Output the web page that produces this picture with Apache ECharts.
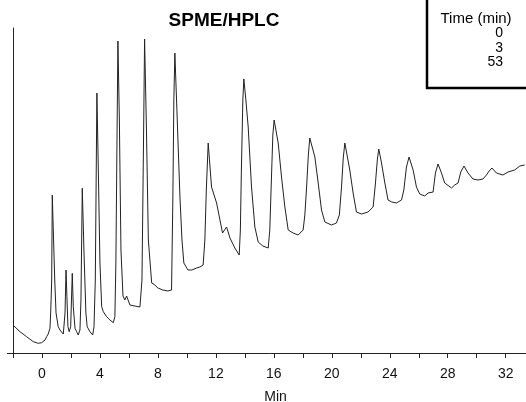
<!DOCTYPE html>
<html>
<head>
<meta charset="utf-8">
<script src="https://cdn.jsdelivr.net/npm/echarts@6/dist/echarts.min.js"></script>
<style>
html,body{margin:0;padding:0;background:#fff;}
#chart{width:526px;height:402px;}
</style>
</head>
<body>
<div id="chart"></div>
<script>
// Retention time (min)
var time = [
-2.0,-1.52,-1.06,-0.60,-0.26,-0.14,-0.02,0.09,0.21,0.32,0.43,0.55,0.60,0.67,0.71,0.78,0.88,0.97,1.12,1.24,
1.36,1.47,1.59,1.66,1.72,1.79,1.88,1.98,2.09,2.16,2.28,2.39,2.50,2.62,2.69,2.78,2.90,3.03,3.12,3.31,
3.50,3.59,3.68,3.79,3.90,4.00,4.12,4.23,4.34,4.46,4.69,4.92,5.03,5.10,5.17,5.24,5.34,5.45,5.59,5.72,
5.84,6.07,6.41,6.76,6.90,7.00,7.08,7.21,7.34,7.57,7.79,8.00,8.34,8.69,8.94,9.03,9.10,9.17,9.31,9.52,
9.66,9.79,10.07,10.34,10.67,10.90,11.12,11.24,11.34,11.47,11.70,12.05,12.28,12.46,12.55,12.74,12.97,13.31,13.61,13.69,
13.76,13.86,13.93,14.07,14.23,14.46,14.69,14.92,15.24,15.61,15.72,15.83,15.93,16.02,16.30,16.53,16.76,16.99,17.33,17.68,
18.02,18.14,18.26,18.38,18.48,18.83,19.06,19.29,19.52,19.98,20.32,20.52,20.67,20.79,20.90,21.24,21.47,21.70,22.05,22.50,
22.85,23.00,23.14,23.24,23.43,23.66,23.88,24.14,24.46,24.81,24.97,25.15,25.33,25.61,25.84,26.07,26.41,26.64,26.99,27.15,
27.33,27.57,27.79,28.26,28.48,28.71,28.90,29.12,29.40,29.74,30.09,30.43,30.67,30.86,31.05,31.36,31.81,31.93,32.16,32.62,
32.97,33.31
];
// Detector signal (arbitrary units)
var signal = [
28,21.3,16.3,11.3,9.7,8,10.3,8.7,13,16.3,19,24.7,40,73,158,123,73,40,26.3,23,
21.3,19,40,83,56.3,26.3,21.3,26.3,79.7,46.3,24.7,21.3,18,23,53,164.7,100,40,26.3,21.3,
18,26.3,73,260,173,90,46.3,41.3,39.7,36.3,33,30.3,36.3,90,203,312,233,103,57,53,
57,48,47,46,73,203,314,223,113,70,68,65,63,62,63,153,253,300,243,156,
113,90,83,83,85,86,88,113,163,210,166,150,133,120,118,126,115,105,98,123,
183,253,274,253,226,166,126,111,107,105,123,173,218,233,210,176,146,123,120,118,
123,138,166,198,215,196,170,143,131,128,130,138,166,195,210,183,160,141,139,141,
146,168,193,204,190,170,153,151,150,153,163,186,196,183,166,159,157,160,161,180,
189,180,170,165,168,170,181,187,180,174,173,174,178,182,185,180,178,177,181,183,
187,188
];
var xTickLabels = [0,4,8,12,16,20,24,28,32];
var legendTitle = 'Time (min)';
var legendTimes = ['0','3','53'];

var data = time.map(function(t,i){return [t, signal[i]];});

var chart = echarts.init(document.getElementById('chart'));
var FONT = 'Liberation Sans, Arial, sans-serif';
chart.setOption({
  animation:false,
  backgroundColor:'#fff',
  grid:{left:13,right:0,top:28,bottom:49,outerBoundsMode:'none',containLabel:false},
  xAxis:{
    type:'value', min:-2, max:33.4, interval:2,
    name:'Min', nameLocation:'middle', nameGap:37,
    nameTextStyle:{fontFamily:FONT,fontSize:14,color:'#111',padding:[0,0,0,12]},
    axisLine:{onZero:false,lineStyle:{color:'#222',width:1}},
    axisTick:{length:5,lineStyle:{color:'#222'}},
    axisLabel:{fontFamily:FONT,fontSize:14,color:'#111',margin:14,showMaxLabel:false,
      formatter:function(v){return xTickLabels.indexOf(Math.round(v*100)/100)>=0 ? String(v) : '';}},
    splitLine:{show:false}
  },
  yAxis:{
    type:'value', min:0, max:325,
    axisLine:{show:true,onZero:false,lineStyle:{color:'#222',width:1}},
    axisTick:{show:false}, axisLabel:{show:false}, splitLine:{show:false}
  },
  series:[{
    type:'line', data:data, showSymbol:false, smooth:false,
    lineStyle:{color:'#222',width:1}
  }],
  graphic:[
    {type:'line',shape:{x1:7,y1:353.5,x2:13,y2:353.5},style:{stroke:'#222',lineWidth:1}},
    {type:'text',x:224,y:21,style:{text:'SPME/HPLC',font:'bold 19px '+FONT,fill:'#000',textAlign:'center',textVerticalAlign:'middle'}},
    {type:'rect',shape:{x:427,y:-5,width:110,height:93},style:{fill:'#fff',stroke:'#000',lineWidth:2.5}},
    {type:'text',x:476,y:19,style:{text:legendTitle,font:'15px '+FONT,fill:'#000',textAlign:'center',textVerticalAlign:'middle'}},
    {type:'text',x:503,y:33,style:{text:legendTimes[0],font:'14px '+FONT,fill:'#000',textAlign:'right',textVerticalAlign:'middle'}},
    {type:'text',x:503,y:48,style:{text:legendTimes[1],font:'14px '+FONT,fill:'#000',textAlign:'right',textVerticalAlign:'middle'}},
    {type:'text',x:503,y:62,style:{text:legendTimes[2],font:'14px '+FONT,fill:'#000',textAlign:'right',textVerticalAlign:'middle'}}
  ]
});
</script>
</body>
</html>
